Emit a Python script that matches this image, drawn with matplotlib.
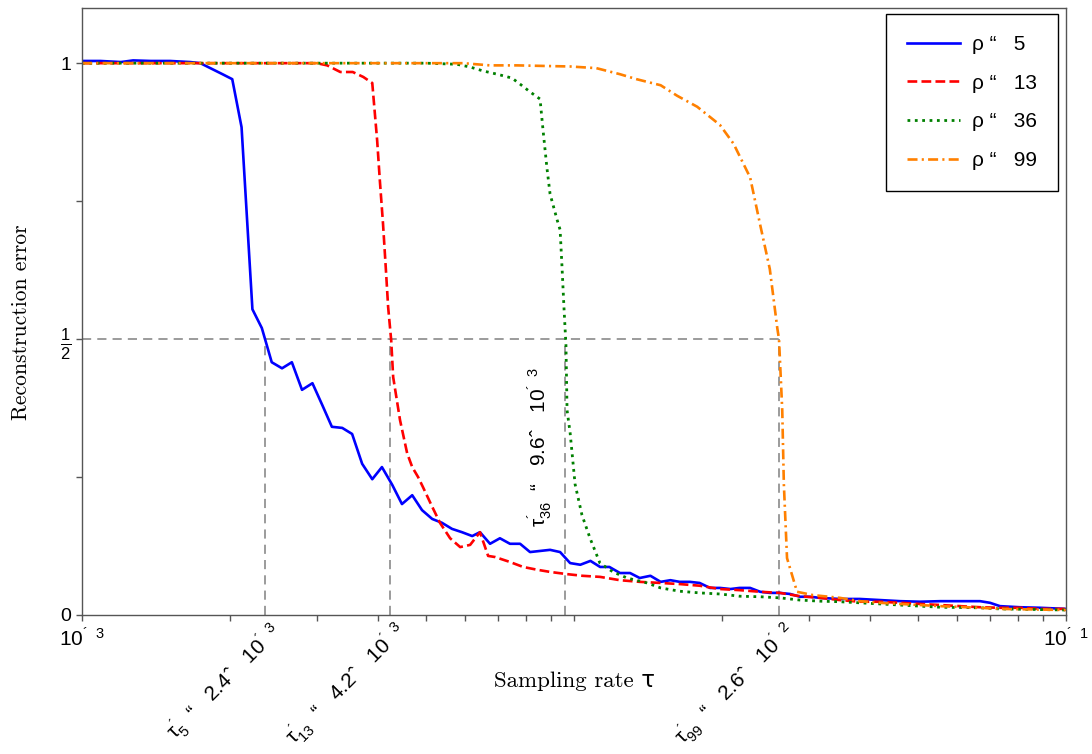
import numpy as np
import matplotlib.pyplot as plt
from matplotlib.ticker import NullFormatter, LogLocator
from matplotlib.transforms import blended_transform_factory

plt.rcParams['font.family'] = ['Liberation Sans', 'DejaVu Sans']
plt.rcParams['mathtext.fontset'] = 'custom'
plt.rcParams['mathtext.rm'] = 'Liberation Sans'
plt.rcParams['mathtext.it'] = 'Liberation Sans'
plt.rcParams['mathtext.bf'] = 'Liberation Sans'

# rho = 5
blue_tau = [1.00e-3, 1.09e-3, 1.20e-3, 1.27e-3, 1.38e-3, 1.51e-3, 1.66e-3, 1.74e-3, 1.93e-3, 2.02e-3,
            2.11e-3, 2.22e-3, 2.32e-3, 2.43e-3, 2.55e-3, 2.67e-3, 2.80e-3, 2.94e-3, 3.08e-3, 3.22e-3,
            3.38e-3, 3.54e-3, 3.71e-3, 3.89e-3, 4.07e-3, 4.27e-3, 4.47e-3, 4.69e-3, 4.91e-3, 5.15e-3,
            5.39e-3, 5.65e-3, 5.92e-3, 6.21e-3, 6.44e-3, 6.75e-3, 7.07e-3, 7.41e-3, 7.77e-3, 8.14e-3,
            8.53e-3, 8.94e-3, 9.37e-3, 9.82e-3, 1.03e-2, 1.08e-2, 1.13e-2, 1.18e-2, 1.24e-2, 1.30e-2,
            1.36e-2, 1.43e-2, 1.50e-2, 1.57e-2, 1.64e-2, 1.72e-2, 1.80e-2, 1.89e-2, 1.98e-2, 2.08e-2,
            2.17e-2, 2.28e-2, 2.39e-2, 2.50e-2, 2.62e-2, 2.75e-2, 2.88e-2, 3.02e-2, 3.16e-2, 3.47e-2,
            3.81e-2, 4.19e-2, 4.60e-2, 5.05e-2, 5.55e-2, 6.09e-2, 6.69e-2, 7.01e-2, 7.34e-2, 8.06e-2,
            8.86e-2, 1.00e-1]
blue_err = [1.004, 1.004, 1.002, 1.005, 1.004, 1.004, 1.002, 1.000, 0.980, 0.971,
            0.884, 0.554, 0.520, 0.458, 0.447, 0.458, 0.408, 0.420, 0.380, 0.341,
            0.339, 0.328, 0.274, 0.246, 0.268, 0.236, 0.201, 0.217, 0.190, 0.174,
            0.167, 0.156, 0.150, 0.143, 0.150, 0.129, 0.139, 0.129, 0.129, 0.114,
            0.116, 0.118, 0.114, 0.094, 0.091, 0.098, 0.087, 0.087, 0.076, 0.076,
            0.067, 0.071, 0.060, 0.063, 0.060, 0.060, 0.058, 0.049, 0.049, 0.047,
            0.049, 0.049, 0.042, 0.040, 0.040, 0.038, 0.033, 0.033, 0.031, 0.029,
            0.029, 0.027, 0.025, 0.024, 0.025, 0.025, 0.025, 0.022, 0.016, 0.014,
            0.013, 0.011]

# rho = 13
red_tau = [1.00e-3, 1.50e-3, 2.00e-3, 2.50e-3, 3.00e-3, 3.15e-3, 3.35e-3, 3.55e-3, 3.73e-3, 3.89e-3,
           3.98e-3, 4.03e-3, 4.09e-3, 4.15e-3, 4.19e-3, 4.25e-3, 4.29e-3, 4.43e-3, 4.58e-3, 4.69e-3,
           4.82e-3, 4.93e-3, 5.15e-3, 5.34e-3, 5.60e-3, 5.87e-3, 6.15e-3, 6.44e-3, 6.69e-3, 6.91e-3,
           7.41e-3, 7.88e-3, 8.41e-3, 8.94e-3, 9.68e-3, 1.04e-2, 1.13e-2, 1.24e-2, 1.36e-2, 1.50e-2,
           1.64e-2, 1.80e-2, 1.98e-2, 2.17e-2, 2.39e-2, 2.62e-2, 2.88e-2, 3.16e-2, 3.47e-2, 3.81e-2,
           4.19e-2, 4.60e-2, 5.05e-2, 5.55e-2, 6.09e-2, 6.69e-2, 7.34e-2, 8.06e-2, 8.86e-2, 1.00e-1]
red_err = [1.0, 1.0, 1.0, 1.0, 1.0, 0.996, 0.984, 0.984, 0.975, 0.964,
           0.860, 0.788, 0.710, 0.620, 0.558, 0.498, 0.431, 0.353, 0.293, 0.268,
           0.250, 0.232, 0.196, 0.167, 0.139, 0.123, 0.127, 0.150, 0.107, 0.105,
           0.096, 0.087, 0.082, 0.078, 0.074, 0.071, 0.069, 0.063, 0.060, 0.058,
           0.056, 0.053, 0.047, 0.045, 0.042, 0.040, 0.034, 0.031, 0.027, 0.024,
           0.024, 0.022, 0.020, 0.018, 0.016, 0.014, 0.013, 0.013, 0.011, 0.011]

# rho = 36
green_tau = [1.00e-3, 2.00e-3, 3.00e-3, 4.00e-3, 5.00e-3, 5.78e-3, 6.15e-3, 6.53e-3, 6.98e-3, 7.48e-3,
             7.77e-3, 8.14e-3, 8.53e-3, 8.65e-3, 8.81e-3, 8.94e-3, 9.24e-3, 9.37e-3, 9.45e-3, 9.54e-3,
             9.63e-3, 9.68e-3, 9.82e-3, 1.005e-2, 1.038e-2, 1.078e-2, 1.129e-2, 1.200e-2, 1.282e-2, 1.407e-2,
             1.50e-2, 1.64e-2, 1.80e-2, 1.98e-2, 2.17e-2, 2.39e-2, 2.62e-2, 2.88e-2, 3.16e-2, 3.47e-2,
             3.81e-2, 4.19e-2, 4.60e-2, 5.05e-2, 5.55e-2, 6.69e-2, 7.34e-2, 1.00e-1]
green_err = [1.0, 1.0, 1.0, 1.0, 1.0, 0.998, 0.993, 0.986, 0.980, 0.973,
             0.962, 0.948, 0.935, 0.879, 0.810, 0.763, 0.716, 0.698, 0.634, 0.558,
             0.489, 0.371, 0.330, 0.237, 0.181, 0.139, 0.094, 0.078, 0.067, 0.058,
             0.049, 0.043, 0.040, 0.038, 0.034, 0.033, 0.031, 0.027, 0.025, 0.024,
             0.022, 0.020, 0.018, 0.016, 0.014, 0.013, 0.011, 0.009]

# rho = 99
orange_tau = [1.00e-3, 2.00e-3, 3.00e-3, 4.00e-3, 5.00e-3, 5.95e-3, 6.75e-3, 7.66e-3, 8.65e-3, 9.82e-3,
              1.11e-2, 1.24e-2, 1.34e-2, 1.50e-2, 1.62e-2, 1.78e-2, 1.98e-2, 2.11e-2, 2.28e-2, 2.39e-2,
              2.50e-2, 2.59e-2, 2.61e-2, 2.65e-2, 2.67e-2, 2.71e-2, 2.84e-2, 3.06e-2, 3.47e-2, 3.81e-2,
              4.19e-2, 4.60e-2, 5.05e-2, 5.55e-2, 6.69e-2, 7.34e-2, 1.00e-1]
orange_err = [1.0, 1.0, 1.0, 1.0, 1.0, 1.0, 0.996, 0.996, 0.995, 0.994,
              0.991, 0.980, 0.971, 0.960, 0.941, 0.921, 0.888, 0.854, 0.793, 0.707,
              0.627, 0.519, 0.500, 0.371, 0.237, 0.103, 0.042, 0.036, 0.031, 0.025,
              0.022, 0.020, 0.018, 0.016, 0.013, 0.011, 0.009]

rho_labels = ['ρ “   5', 'ρ “   13', 'ρ “   36', 'ρ “   99']

# thresholds where the error reaches 1/2
tau_star = [2.36e-3, 4.23e-3, 9.6e-3, 2.61e-2]
tau_star_labels = [r'$\mathregular{τ^{´}_{5}\ \ “\ \ \ 2.4ˆ\ \ \ 10^{´\ \ 3}}$',
                   r'$\mathregular{τ^{´}_{13}\ \ “\ \ \ 4.2ˆ\ \ \ 10^{´\ \ 3}}$',
                   r'$\mathregular{τ^{´}_{36}\ \ “\ \ \ 9.6ˆ\ \ \ 10^{´\ \ 3}}$',
                   r'$\mathregular{τ^{´}_{99}\ \ “\ \ \ 2.6ˆ\ \ \ 10^{´\ \ 2}}$']

fig = plt.figure(figsize=(10.92, 7.54), dpi=100)
ax = fig.add_axes([0.0751, 0.1844, 0.9011, 0.805])

ax.plot(blue_tau, blue_err, '-', color='#0000ff', lw=1.9, label=rho_labels[0])
ax.plot(red_tau, red_err, '--', color='#ff0000', lw=1.9, label=rho_labels[1])
ax.plot(green_tau, green_err, ':', color='#008000', lw=2.0, label=rho_labels[2])
ax.plot(orange_tau, orange_err, color='#ff8000', lw=1.9, ls=(0, (3.8, 1.6, 0.8, 1.6)),
        label=rho_labels[3])

# guide lines at error 1/2
ax.plot([1e-3, tau_star[-1]], [0.5, 0.5], color='#808080', lw=1.1, ls=(0, (6, 4)), zorder=1)
for t in tau_star:
    ax.plot([t, t], [0, 0.5], color='#808080', lw=1.1, ls=(0, (6, 4)), zorder=1)

ax.set_xscale('log')
ax.set_xlim(1e-3, 1e-1)
ax.set_ylim(0, 1.1)

ax.set_xticks([1e-3, 1e-2, 1e-1])
ax.set_xticklabels([r'$\mathregular{10^{´\ \ 3}}$', '', r'$\mathregular{10^{´\ \ 1}}$'], fontsize=15)
ax.xaxis.set_minor_locator(LogLocator(base=10, subs=np.arange(2, 10)))
ax.xaxis.set_minor_formatter(NullFormatter())
ax.set_yticks([0, 0.25, 0.5, 0.75, 1])
ax.set_yticklabels(['0', '', r'$\mathregular{\frac{1}{2}}$', '', '1'], fontsize=14)
ax.get_yticklabels()[2].set_fontsize(17)

ax.tick_params(axis='both', which='both', direction='out', length=4, width=1, color='#555555')
ax.tick_params(axis='x', pad=5)
for side in ['left', 'bottom', 'top', 'right']:
    ax.spines[side].set_color('#555555')
    ax.spines[side].set_linewidth(1)

trans = blended_transform_factory(ax.transData, ax.transAxes)
for i in [0, 1, 3]:
    ax.annotate(tau_star_labels[i], xy=(tau_star[i], 0), xycoords=trans,
                xytext=(2, -2), textcoords='offset points', rotation=45,
                rotation_mode='anchor', ha='right', va='top', fontsize=15)
ax.text(8.5e-3, 0.16, tau_star_labels[2], rotation=90, ha='center', va='bottom', fontsize=15)

ax.set_xlabel('Sampling rate τ', family=['cmr10', 'DejaVu Sans'], fontsize=16.5, labelpad=15)
ax.set_ylabel('Reconstruction error', family=['cmr10', 'DejaVu Sans'], fontsize=15.5)
ax.yaxis.set_label_coords(-0.052, 0.483)

leg = ax.legend(loc='upper right', bbox_to_anchor=(0.992, 0.99), borderaxespad=0, fontsize=15,
                handlelength=2.55, handletextpad=0.6, labelspacing=0.95,
                fancybox=False, framealpha=1, edgecolor='black', borderpad=1.0)
leg.get_frame().set_linewidth(1)

fig.savefig('out.png', dpi=100)
